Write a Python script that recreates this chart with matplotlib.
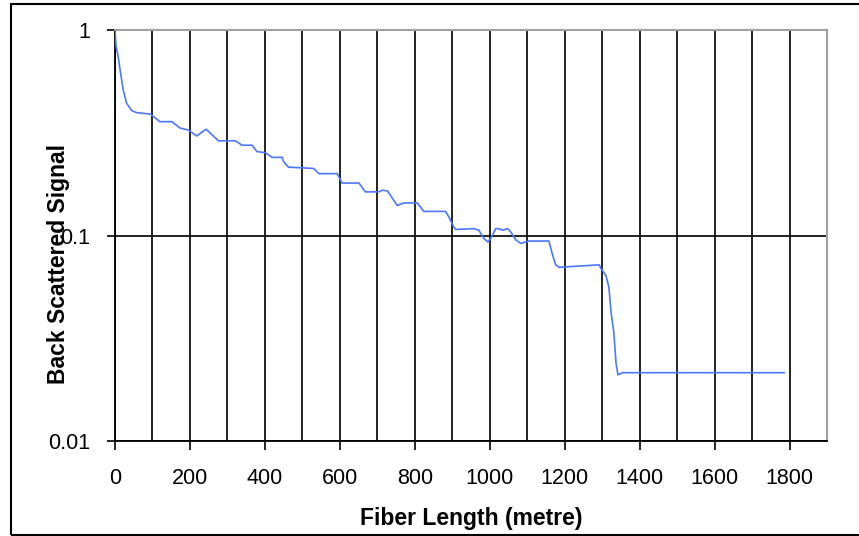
import matplotlib.pyplot as plt
import matplotlib.patches as patches
from matplotlib.ticker import FixedLocator, MultipleLocator, NullLocator

# Fiber length (metre) and back scattered signal
length_m = [0, 3, 9, 15, 22, 31, 45, 58, 94, 120, 152, 174, 196, 218, 243,
            276, 321, 339, 366, 379, 401, 419, 446, 450, 463, 530, 544, 593,
            606, 651, 668, 704, 713, 727, 740, 753, 771, 807, 824, 882, 891,
            904, 909, 958, 971, 984, 995, 1003, 1016, 1025, 1034, 1048, 1056,
            1070, 1083, 1104, 1158, 1168, 1176, 1185, 1292, 1297, 1310, 1318,
            1324, 1331, 1337, 1342, 1355, 1786]
signal = [1.0, 0.83, 0.73, 0.615, 0.51, 0.44, 0.405, 0.396, 0.39, 0.358,
          0.358, 0.333, 0.326, 0.305, 0.329, 0.289, 0.289, 0.275, 0.275,
          0.256, 0.253, 0.24, 0.24, 0.229, 0.215, 0.212, 0.2, 0.2, 0.18,
          0.18, 0.163, 0.163, 0.166, 0.165, 0.152, 0.14, 0.144, 0.144, 0.131,
          0.131, 0.123, 0.11, 0.107, 0.108, 0.106, 0.097, 0.093, 0.097, 0.108,
          0.108, 0.106, 0.108, 0.104, 0.095, 0.0915, 0.094, 0.094, 0.08,
          0.072, 0.070, 0.072, 0.069, 0.064, 0.056, 0.042, 0.034, 0.024,
          0.021, 0.0215, 0.0215]

y_ticks = [0.01, 0.1, 1]
y_tick_labels = ['0.01', '0.1', '1']

plt.rcParams['font.family'] = ['Liberation Sans', 'DejaVu Sans']

W, H = 859, 536
fig = plt.figure(figsize=(W / 100, H / 100), dpi=100)
ax = fig.add_axes([115 / W, 1 - 441 / H, (827 - 115) / W, (441 - 30) / H])

# Outer frame of the chart object
fig.patches.append(patches.Rectangle((11 / W, 1 - 535 / H), 900 / W, 531 / H,
                                     transform=fig.transFigure, fill=False,
                                     edgecolor='black', linewidth=1.5))

ax.plot(length_m, signal, color='#4a78ff', linewidth=1.2, zorder=3)

ax.set_yscale('log')
ax.set_ylim(0.01, 1)
ax.set_xlim(0, 1900)

ax.yaxis.set_major_locator(FixedLocator(y_ticks))
ax.set_yticklabels(y_tick_labels)
ax.yaxis.set_minor_locator(NullLocator())
ax.xaxis.set_major_locator(MultipleLocator(200))
ax.xaxis.set_minor_locator(MultipleLocator(100))

# Gridlines every 100 m and at each decade
ax.grid(True, which='both', axis='x', color='#111111', linewidth=1.3)
ax.grid(True, which='major', axis='y', color='#111111', linewidth=1.3)
ax.set_axisbelow(True)

ax.tick_params(axis='x', which='major', direction='out', length=6.5,
               width=1.2, pad=13, labelsize=15.5, colors='black')
ax.tick_params(axis='x', which='minor', length=0)
ax.tick_params(axis='y', which='major', direction='out', length=6,
               width=1.2, pad=12, labelsize=15.5, colors='black')

for side in ['left', 'bottom']:
    ax.spines[side].set_color('black')
    ax.spines[side].set_linewidth(1.3)
for side in ['top', 'right']:
    ax.spines[side].set_color('#a0a0a0')
    ax.spines[side].set_linewidth(1.5)

fig.text(471 / W, 1 - 518 / H, 'Fiber Length (metre)', ha='center',
         va='center', fontsize=16.5, fontweight='bold')
fig.text(59 / W, 1 - 264 / H, 'Back Scattered Signal', ha='center',
         va='center', rotation=90, fontsize=16.5, fontweight='bold')

fig.savefig('out.png', dpi=100)
